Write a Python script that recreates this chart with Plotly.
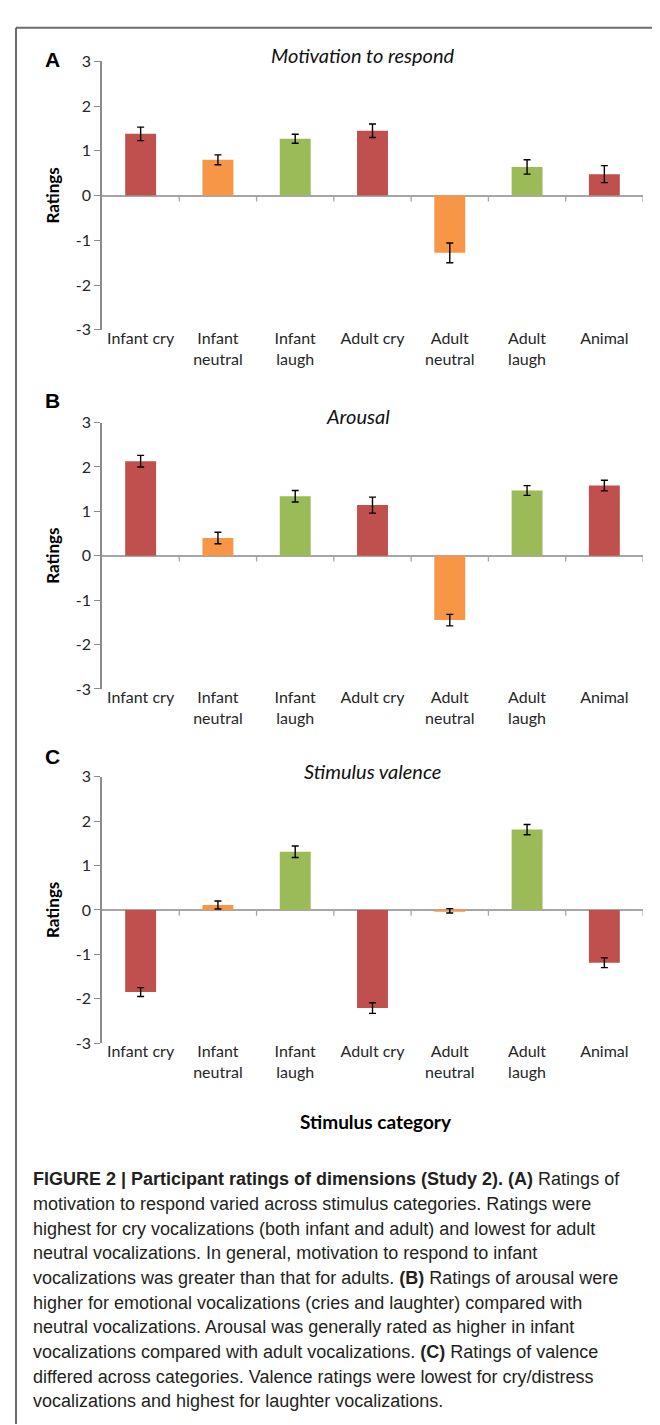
import plotly.graph_objects as go

categories = ["Infant cry", "Infant neutral", "Infant laugh", "Adult cry",
              "Adult neutral", "Adult laugh", "Animal"]
tick_labels = ["Infant cry", "Infant<br>neutral", "Infant<br>laugh", "Adult cry",
               "Adult<br>neutral", "Adult<br>laugh", "Animal"]
bar_colors = ["#C0504D", "#F79646", "#9BBB59", "#C0504D", "#F79646", "#9BBB59", "#C0504D"]

motivation = [1.38, 0.80, 1.27, 1.45, -1.28, 0.64, 0.48]
motivation_err = [0.15, 0.11, 0.10, 0.15, 0.22, 0.16, 0.19]
arousal = [2.13, 0.40, 1.34, 1.14, -1.45, 1.47, 1.58]
arousal_err = [0.13, 0.13, 0.13, 0.18, 0.13, 0.11, 0.12]
valence = [-1.85, 0.11, 1.31, -2.21, -0.02, 1.81, -1.19]
valence_err = [0.10, 0.09, 0.13, 0.12, 0.05, 0.115, 0.11]

y_ticks = [3, 2, 1, 0, -1, -2, -3]
y_tick_text = ["3", "2", "1", "0", "-1", "-2", "-3"]

panels = [
    ("A", "Motivation to respond", motivation, motivation_err),
    ("B", "Arousal", arousal, arousal_err),
    ("C", "Stimulus valence", valence, valence_err),
]

W, H = 660, 1425
# pixel layout of each panel: (y of +3, y of -3)
panel_px = [(44, 316), (410, 680), (769, 1039)]
x_left, x_right = 94, 635
title_px = [(355, 38), (350, 403), (365, 763)]
letter_px = [42, 388, 748]

def py(p):
    return 1 - p / H

def px(p):
    return p / W

fig = go.Figure()
AX = "#8C8C8C"
TICKFONT = dict(family="Lato, Carlito, sans-serif", size=16, color="#262626")

for i, (letter, title, vals, errs) in enumerate(panels):
    n = "" if i == 0 else str(i + 1)
    fig.add_trace(go.Bar(
        x=list(range(len(categories))), y=vals,
        marker=dict(color=bar_colors, line=dict(width=0)),
        width=0.4,
        error_y=dict(type="data", array=errs, visible=True, color="black",
                     thickness=1.4, width=3.5),
        xaxis="x" + n, yaxis="y" + n, showlegend=False,
        hovertext=categories,
    ))
    top, bot = panel_px[i]
    fig.layout["xaxis" + n] = dict(
        domain=[px(x_left), px(x_right)], range=[-0.5, 6.5],
        anchor="y" + n, tickmode="array", tickvals=list(range(7)),
        ticktext=tick_labels, showgrid=False, showline=False, ticks="",
        tickfont=TICKFONT, zeroline=False, fixedrange=True,
        ticklabelstandoff=-3,
    )
    fig.layout["yaxis" + n] = dict(
        domain=[py(bot), py(top)], range=[-3, 3], anchor="x" + n,
        tickmode="array", tickvals=y_ticks, ticktext=y_tick_text,
        showgrid=False, showline=True, linecolor=AX, linewidth=1.5,
        ticks="outside", ticklen=6, tickcolor=AX, tickwidth=1.2,
        tickfont=TICKFONT, zeroline=True, zerolinecolor="#A6A6A6",
        zerolinewidth=2, fixedrange=True,
    )
    # category separator ticks on zero line
    for k in range(7):
        fig.add_shape(type="line", xref="x" + n, yref="y" + n,
                      x0=k + 0.5, x1=k + 0.5, y0=0, y1=-0.13,
                      line=dict(color="#A6A6A6", width=1.3))
    tx, ty = title_px[i]
    fig.add_annotation(text="<i>" + title + "</i>", xref="paper", yref="paper",
                       x=px(tx), y=py(ty), showarrow=False, xanchor="center",
                       yanchor="middle",
                       font=dict(family="Lato, Carlito, sans-serif", size=20, color="#111"))
    fig.add_annotation(text="<b>" + letter + "</b>", xref="paper", yref="paper",
                       x=px(44), y=py(letter_px[i]), showarrow=False,
                       xanchor="center", yanchor="middle",
                       font=dict(family="Liberation Sans, Arial, sans-serif", size=21, color="#000"))
    fig.add_annotation(text="<b>Ratings</b>", xref="paper", yref="paper",
                       x=px(45), y=py((top + bot) / 2), showarrow=False, textangle=-90,
                       xanchor="center", yanchor="middle",
                       font=dict(family="Lato, Carlito, sans-serif", size=17, color="#000"))

fig.add_annotation(text="<b>Stimulus category</b>", xref="paper", yref="paper",
                   x=px(368), y=py(1118), showarrow=False, xanchor="center", yanchor="middle",
                   font=dict(family="Lato, Carlito, sans-serif", size=19, color="#000"))

# frame lines
fig.add_shape(type="line", xref="paper", yref="paper", x0=px(8), x1=1, y0=py(10), y1=py(10),
              line=dict(color="#6E6E6E", width=2))
fig.add_shape(type="line", xref="paper", yref="paper", x0=px(8), x1=px(8), y0=py(10), y1=0,
              line=dict(color="#3C3C3C", width=1.5))

caption_lines = [
    "<b>FIGURE 2 | Participant ratings of dimensions (Study 2). (A)</b> Ratings of",
    "motivation to respond varied across stimulus categories. Ratings were",
    "highest for cry vocalizations (both infant and adult) and lowest for adult",
    "neutral vocalizations. In general, motivation to respond to infant",
    "vocalizations was greater than that for adults. <b>(B)</b> Ratings of arousal were",
    "higher for emotional vocalizations (cries and laughter) compared with",
    "neutral vocalizations. Arousal was generally rated as higher in infant",
    "vocalizations compared with adult vocalizations. <b>(C)</b> Ratings of valence",
    "differed across categories. Valence ratings were lowest for cry/distress",
    "vocalizations and highest for laughter vocalizations.",
]
for j, line in enumerate(caption_lines):
    fig.add_annotation(text=line, xref="paper", yref="paper", x=px(24), y=py(1177 + 25 * j),
                       showarrow=False, xanchor="left", yanchor="middle", align="left",
                       borderpad=0,
                       font=dict(family="Liberation Sans, Arial, sans-serif",
                                 size=18, color="#231F20"))

fig.update_layout(width=W, height=H, margin=dict(l=0, r=0, t=0, b=0),
                  paper_bgcolor="white", plot_bgcolor="white", bargap=0.6)
fig.write_html("out.html")
